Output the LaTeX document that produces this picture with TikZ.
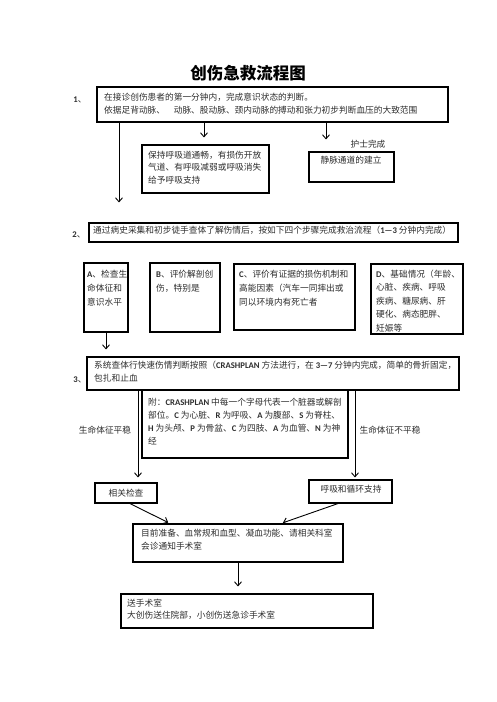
\documentclass[tikz,border=0pt]{standalone}
\usepackage{fontspec}
\setmainfont{Noto Sans CJK SC}
\newfontfamily\latfont{Carlito}
\usetikzlibrary{arrows.meta}
\newcommand{\lat}[1]{{\latfont\bfseries #1}}
\newcommand{\rows}[1]{\begin{tabular}[t]{@{}l@{}}#1\end{tabular}}
\newcommand{\bodyfont}{\fontsize{8.7}{13}\selectfont}
\definecolor{ink}{gray}{0.18}
\begin{document}
\begin{tikzpicture}[x=1pt,y=-1pt,
  box/.style={draw=black, line width=1.1pt, inner sep=0pt},
  txt/.style={anchor=base west, inner sep=0pt, text=ink, font=\bodyfont},
  ctxt/.style={inner sep=0pt, text=ink, font=\bodyfont},
  arr/.style={draw=black, line width=0.9pt, -{Straight Barb[length=4pt,width=7pt,line width=0.9pt]}}]
\useasboundingbox (0,0) rectangle (496,702);
\fill[white] (0,0) rectangle (496,702);

% title
\node[inner sep=0pt, font=\fontsize{16.5}{18}\selectfont\bfseries] (title) at (248,73) {创伤急救流程图};

% boxes
\node[box, minimum width=351pt, minimum height=35pt] (b1) at (272.5,104.5) {};
\node[box, minimum width=127pt, minimum height=48pt] (keep) at (205.5,169) {};
\node[box, minimum width=85pt, minimum height=30pt] (vein) at (351.5,167) {};
\node[box, minimum width=369pt, minimum height=19pt] (b2) at (273.5,232.5) {};
\node[box, minimum width=44pt, minimum height=69pt] (bA) at (106,297.5) {};
\node[box, minimum width=70pt, minimum height=69pt] (bB) at (185,297.5) {};
\node[box, minimum width=121pt, minimum height=66pt] (bC) at (294.5,297) {};
\node[box, minimum width=92pt, minimum height=70pt] (bD) at (417,299) {};
\node[box, minimum width=372pt, minimum height=33pt] (b3) at (273,373.5) {};
\node[box, minimum width=206pt, minimum height=68pt] (bApp) at (245,424) {};
\node[box, minimum width=62pt, minimum height=20pt, text=ink, font=\bodyfont] (bCheck) at (126,493) {相关检查};
\node[box, minimum width=83pt, minimum height=23pt] (bResp) at (350.5,491.5) {};
\node[box, minimum width=210pt, minimum height=38pt] (bPrep) at (238,543) {};
\node[box, minimum width=252pt, minimum height=34pt] (bOR) at (247,611) {};

% numbers and free labels
\node[ctxt] (n1) at (80,100) {\lat{1}、};
\node[ctxt] (n2) at (79,235) {\lat{2}、};
\node[ctxt] (n3) at (80,380) {\lat{3}、};
\node[ctxt] (nurse) at (368,144) {护士完成};
\node[ctxt] (stable) at (105,430) {生命体征平稳};
\node[ctxt] (unstable) at (390,430) {生命体征不平稳};

% box texts
\node[txt] (t1) at (104,100.3) {\rows{在接诊创伤患者的第一分钟内，完成意识状态的判断。\\依据足背动脉、　动脉、股动脉、颈内动脉的搏动和张力初步判断血压的大致范围}};
\node[txt, font=\fontsize{8.7}{12.5}\selectfont] (tkeep) at (148,158.3) {\rows{保持呼吸道通畅，有损伤开放\\气道、有呼吸减弱或呼吸消失\\给予呼吸支持}};
\node[ctxt] (tvein) at (351,160) {静脉通道的建立};
\node[txt] (t2) at (93,233.3) {通过病史采集和初步徒手查体了解伤情后，按如下四个步骤完成救治流程（\lat{1—3} 分钟内完成）};
\node[txt, font=\fontsize{8.7}{14}\selectfont] (tA) at (87,277.3) {\rows{\lat{A}、检查生\\命体征和\\意识水平}};
\node[txt, font=\fontsize{8.7}{14}\selectfont] (tB) at (156,277.3) {\rows{\lat{B}、评价解剖创\\伤，特别是}};
\node[txt, font=\fontsize{8.7}{14}\selectfont] (tC) at (239,277.3) {\rows{\lat{C}、评价有证据的损伤机制和\\高能因素（汽车一同摔出或\\同以环境内有死亡者}};
\node[txt, font=\fontsize{8.7}{13.5}\selectfont] (tD) at (376,277.3) {\rows{\lat{D}、基础情况（年龄、\\心脏、疾病、呼吸\\疾病、糖尿病、肝\\硬化、病态肥胖、\\妊娠等}};
\node[txt] (t3) at (94,368.3) {\rows{系统查体行快速伤情判断按照（\lat{CRASHPLAN} 方法进行，在 \lat{3—7} 分钟内完成，简单的骨折固定，\\包扎和止血}};
\node[txt] (tApp) at (148,405.3) {\rows{附：\lat{CRASHPLAN} 中每一个字母代表一个脏器或解剖\\部位。\lat{C} 为心脏、\lat{R} 为呼吸、\lat{A} 为腹部、\lat{S} 为脊柱、\\\lat{H} 为头颅、\lat{P} 为骨盆、\lat{C} 为四肢、\lat{A} 为血管、\lat{N} 为神\\经}};
\node[ctxt] (tResp) at (351,489) {呼吸和循环支持};
\node[txt] (tPrep) at (141,536.3) {\rows{目前准备、血常规和血型、凝血功能、请相关科室\\会诊通知手术室}};
\node[txt, font=\fontsize{8.7}{12}\selectfont] (tOR) at (127,606.3) {\rows{送手术室\\大创伤送住院部，小创伤送急诊手术室}};

% x positions for connectors
\coordinate (xL) at (119,0);
\coordinate (xM) at (204,0);
\coordinate (xR) at (326,0);
\coordinate (xCL) at (138,0);
\coordinate (xCR) at (355,0);
\coordinate (xS1) at (130,0);
\coordinate (xE1) at (170,0);
\coordinate (xS2) at (338,0);
\coordinate (xE2) at (281,0);

% connectors
\draw[arr, shorten >=20pt] (b1.south -| xL) -- (b2.north -| xL);
\draw[arr, shorten >=7pt] (b1.south -| xM) -- (keep.north -| xM);
\draw[arr, shorten >=12pt] (b1.south -| xR) -- (vein.north -| xR);
\draw[arr, shorten >=7pt] (bA.south) -- (b3.north -| bA.south);
\draw[arr, shorten >=5pt] (b3.south -| xCL) -- (bCheck.north -| xCL);
\draw[arr, shorten >=2pt] (b3.south -| xCR) -- (bResp.north -| xCR);
\draw[arr, shorten >=2pt] (bCheck.south -| xS1) -- (bPrep.north -| xE1);
\draw[arr, shorten >=2pt] (bResp.south -| xS2) -- (bPrep.north -| xE2);
\draw[arr, shorten >=7pt] (bPrep.south) -- (bOR.north -| bPrep.south);
\end{tikzpicture}
\end{document}
